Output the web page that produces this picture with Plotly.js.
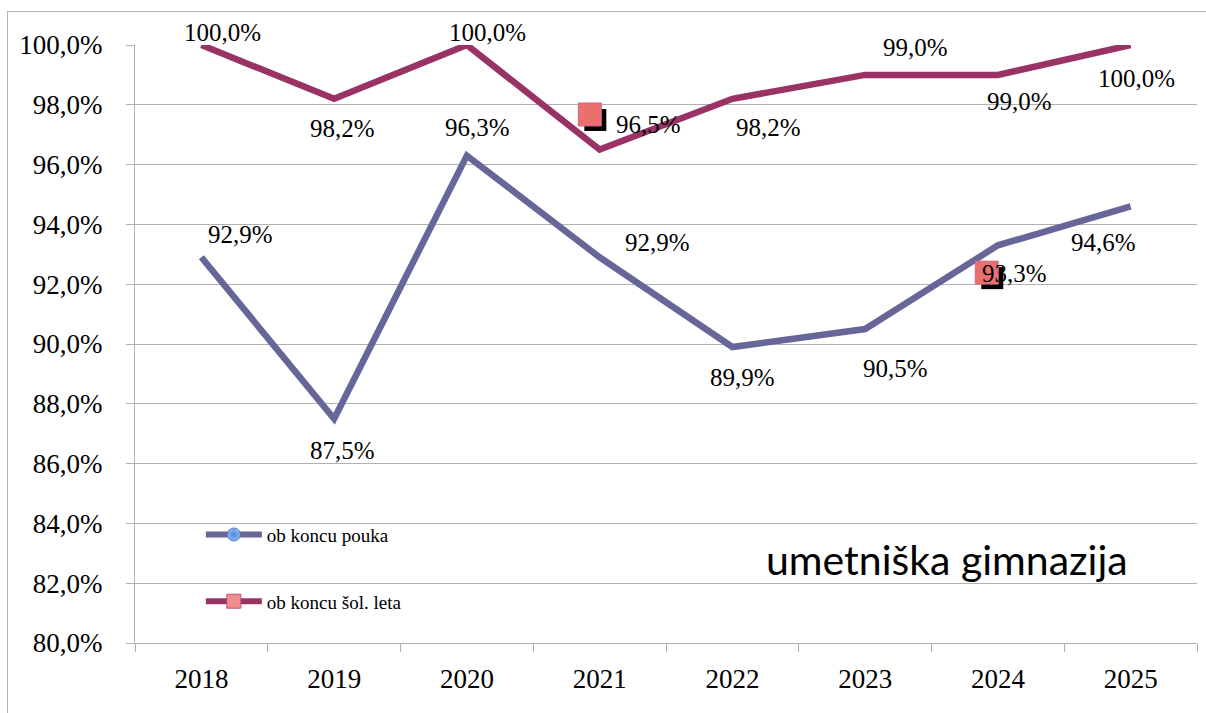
<!DOCTYPE html>
<html>
<head>
<meta charset="utf-8">
<script src="https://cdn.plot.ly/plotly-3.0.1.min.js"></script>
<style>
html,body{margin:0;padding:0;background:#fff;}
#frame{position:absolute;left:7px;top:11px;width:1205px;height:710px;border:1px solid #b4b4b4;box-sizing:border-box;}
#chart{position:absolute;left:0;top:0;width:1206px;height:713px;}
</style>
</head>
<body>
<div id="frame"></div>
<div id="chart"></div>
<script>
var years = ["2018","2019","2020","2021","2022","2023","2024","2025"];
var obKoncuPouka = [92.9, 87.5, 96.3, 92.9, 89.9, 90.5, 93.3, 94.6];
var obKoncuSolLeta = [100.0, 98.2, 100.0, 96.5, 98.2, 99.0, 99.0, 100.0];
var seriesNames = ["ob koncu pouka", "ob koncu šol. leta"];
var chartLabel = "umetniška gimnazija";
// stray marker decorations seen in the picture: [category position, value]
var strayMarkers = [[2.93, 97.66], [5.92, 92.37]];

// label offsets (pixels, dx right, dy down)
var offPouka = [[39,-23],[8,32],[11,-28],[58,-15],[10,31],[30,39],[17,28],[-27,36]];
var offLeta = [[21,-13],[8,30],[21,-13],[49,-25],[36,29],[50,-27],[22,27],[6,33]];

var blue = "#666699", plum = "#993366";
var serif = "Liberation Serif";

function fmt(v){ return v.toFixed(1).replace(".", ",") + "%"; }

var traces = [
  {x: years, y: obKoncuPouka, type: "scatter", mode: "lines", line: {color: blue, width: 6.5}, showlegend: false, cliponaxis: false, hoverinfo: "skip"},
  {x: years, y: obKoncuSolLeta, type: "scatter", mode: "lines", line: {color: plum, width: 6.5}, showlegend: false, cliponaxis: false, hoverinfo: "skip"},
  {x: [null], y: [null], type: "scatter", mode: "lines+markers", name: seriesNames[0], legendgroup: "a",
   line: {color: blue, width: 6}, marker: {symbol: "circle", size: 13, color: "#8fb6f0", line: {color: "#4a7ac8", width: 1}, gradient: {type: "radial", color: "#4f86d8"}}},
  {x: [null], y: [null], type: "scatter", mode: "lines+markers", name: seriesNames[1], legendgroup: "b",
   line: {color: plum, width: 6}, marker: {symbol: "square", size: 14, color: "#f08c8c", line: {color: "#c0507a", width: 1}}}
];

var annotations = [];
function addLabels(vals, offs){
  for (var i = 0; i < years.length; i++){
    annotations.push({x: i, y: vals[i], xref: "x", yref: "y", text: fmt(vals[i]), showarrow: false,
      xshift: offs[i][0], yshift: -offs[i][1], font: {family: serif, size: 25, color: "#000"}});
  }
}
addLabels(obKoncuSolLeta, offLeta);
addLabels(obKoncuPouka, offPouka);
annotations.push({x: 0.765, y: 0.14, xref: "paper", yref: "paper", text: chartLabel, showarrow: false,
  xanchor: "center", yanchor: "middle", font: {family: "Lato", size: 41, color: "#000"}});

var shapes = [];
strayMarkers.forEach(function(m){
  shapes.push({type: "rect", xref: "x", yref: "y", xsizemode: "pixel", ysizemode: "pixel", xanchor: m[0], yanchor: m[1],
    x0: -6, x1: 16, y0: -16, y1: 6, fillcolor: "#000", line: {width: 0}, layer: "above"});
  shapes.push({type: "rect", xref: "x", yref: "y", xsizemode: "pixel", ysizemode: "pixel", xanchor: m[0], yanchor: m[1],
    x0: -12, x1: 11, y0: -11, y1: 12, fillcolor: "#ec6f6f", line: {width: 1, color: "#c86b8c"}, layer: "above"});
});

var layout = {
  width: 1206, height: 713,
  margin: {l: 135, r: 9, t: 45, b: 70},
  paper_bgcolor: "rgba(0,0,0,0)", plot_bgcolor: "rgba(0,0,0,0)",
  separators: ", ",
  font: {family: serif, color: "#000"},
  showlegend: true,
  legend: {x: 0.062, y: 0.213, xanchor: "left", yanchor: "top", bgcolor: "rgba(0,0,0,0)",
    font: {family: serif, size: 19, color: "#000"}, tracegroupgap: 39, traceorder: "grouped", itemwidth: 56},
  xaxis: {type: "category", range: [-0.5, 7.5], tickson: "boundaries", ticks: "outside", ticklen: 8, tickcolor: "#b0b0b0",
    showline: true, linecolor: "#b0b0b0", linewidth: 1, showgrid: false, fixedrange: true,
    tickfont: {family: serif, size: 27, color: "#000"}, ticklabelstandoff: 12},
  yaxis: {range: [80, 100], dtick: 2, tick0: 80, tickformat: ".1f", ticksuffix: "%", ticks: "outside", ticklen: 8, tickcolor: "#b0b0b0",
    showline: true, linecolor: "#b0b0b0", linewidth: 1, showgrid: true, gridcolor: "#b0b0b0", gridwidth: 1, zeroline: false, fixedrange: true,
    tickfont: {family: serif, size: 27, color: "#000"}, ticklabelstandoff: 18},
  annotations: annotations,
  shapes: shapes
};

Plotly.newPlot("chart", traces, layout, {displayModeBar: false, staticPlot: true});
</script>
</body>
</html>
